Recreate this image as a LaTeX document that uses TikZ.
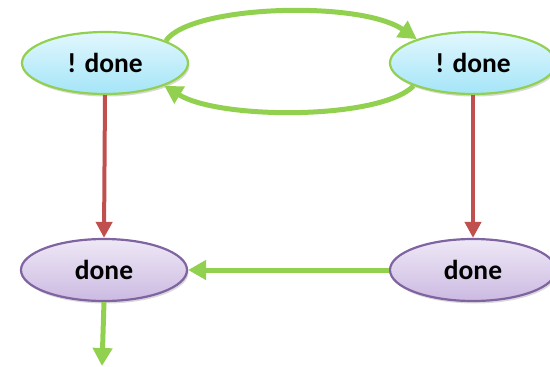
\documentclass[tikz,border=0pt]{standalone}
\usepackage{fontspec}
\setmainfont{Carlito}
\usetikzlibrary{arrows.meta,shapes.geometric,shadows}
\definecolor{grn}{RGB}{146,208,80}
\definecolor{rd}{RGB}{192,80,77}
\definecolor{purp}{RGB}{128,100,162}
\definecolor{cyTop}{RGB}{226,247,253}
\definecolor{cyBot}{RGB}{164,229,248}
\definecolor{lvTop}{RGB}{238,232,246}
\definecolor{lvBot}{RGB}{204,186,226}
\tikzset{
  st/.style={ellipse, minimum width=166pt, minimum height=62pt, inner sep=0pt,
    font=\fontsize{27.5}{30}\selectfont\bfseries, line width=2.2pt,
    drop shadow={shadow xshift=1.5pt, shadow yshift=-2.5pt, opacity=0.3}},
  notdone/.style={st, draw=grn, top color=cyTop, bottom color=cyBot},
  isdone/.style={st, draw=purp, top color=lvTop, bottom color=lvBot},
  garrow/.style={draw=grn, line width=5pt, -{Triangle[length=18pt,width=19pt]}},
  rarrow/.style={draw=rd, line width=4pt, -{Triangle[length=16pt,width=16pt]}}
}
\begin{document}
\begin{tikzpicture}[x=1pt,y=-1pt]
\useasboundingbox (0,0) rectangle (550,367);
\node[notdone] (tl) at (105,63) {! done};
\node[notdone] (tr) at (473,63) {! done};
\node[isdone] (bl) at (104,270) {done};
\node[isdone] (br) at (473,270) {done};
\coordinate (out) at (102,366);
\draw[garrow] (tl.20) .. controls (190,5) and (360,0) .. (tr.157);
\draw[garrow] (tr.201) .. controls (380,120) and (220,120) .. (tl.-21);
\draw[rarrow] (tl.south) -- (bl.north);
\draw[rarrow] (tr.south) -- (br.north);
\draw[garrow] (br.west) -- (bl.east);
\draw[garrow] (bl.south) -- (out);
\end{tikzpicture}
\end{document}
